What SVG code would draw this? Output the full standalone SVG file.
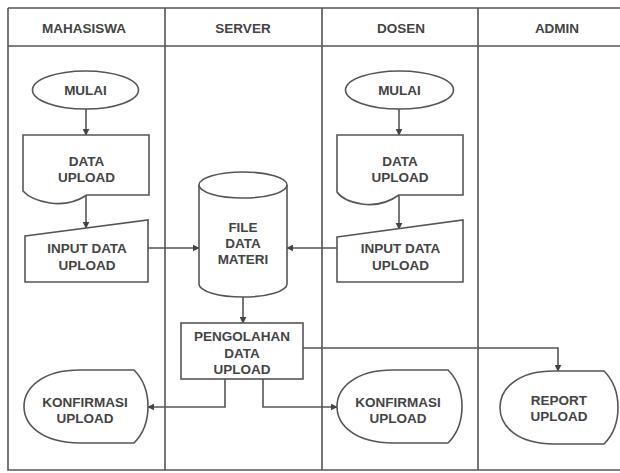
<svg xmlns="http://www.w3.org/2000/svg" width="620" height="473" viewBox="0 0 620 473">
<style>
.ln{fill:none;stroke:#555;stroke-width:1.6}
.sh{fill:#fff;stroke:#555;stroke-width:1.6}
.cn{fill:none;stroke:#555;stroke-width:1.6;marker-end:url(#ah)}
text{font-family:"Liberation Sans",Arial,sans-serif;font-weight:bold;font-size:13.5px;fill:#444;text-anchor:middle}
</style>
<defs>
<marker id="ah" viewBox="0 0 10 10" refX="9" refY="5" markerWidth="7" markerHeight="7" markerUnits="userSpaceOnUse" orient="auto">
<path d="M0,0 L10,5 L0,10 Z" fill="#444"/>
</marker>
</defs>
<rect width="620" height="473" fill="#fff"/>
<g id="lanes">
<path class="ln" d="M8,8 H620 M8,46 H620 M8,8 V470 H620 M165,8 V470 M322,8 V470 M478,8 V470"/>
<text x="84" y="33">MAHASISWA</text>
<text x="243" y="33">SERVER</text>
<text x="401" y="33">DOSEN</text>
<text x="557" y="33">ADMIN</text>
</g>
<g id="connectors">
<path class="cn" d="M86,109 V135"/>
<path class="cn" d="M86,196 V228"/>
<path class="cn" d="M148,248 H199"/>
<path class="cn" d="M399,109 V135"/>
<path class="cn" d="M399,196 V229"/>
<path class="cn" d="M337,248 H287"/>
<path class="cn" d="M243,297 V323"/>
<path class="cn" d="M303,348 H558 V371"/>
<path class="cn" d="M225,379 V407 H148"/>
<path class="cn" d="M263,379 V407 H337"/>
</g>
<g id="mulai-mhs">
<ellipse class="sh" cx="85.5" cy="90" rx="53" ry="19"/>
<text x="85.5" y="95">MULAI</text>
</g>
<g id="data-upload-mhs">
<path class="sh" d="M23,135 H149 V195 H87 Q70,206 50,203 Q31,200 23,191 Z"/>
<text x="86.5" y="166">DATA</text>
<text x="86.5" y="182">UPLOAD</text>
</g>
<g id="input-mhs">
<path class="sh" d="M25,236 L148,220 V282 H25 Z"/>
<text x="87" y="253">INPUT DATA</text>
<text x="87" y="270">UPLOAD</text>
</g>
<g id="file-data-materi">
<path class="sh" d="M199,185 V284 A44,13 0 0 0 287,284 V185 A44,13 0 0 0 199,185 Z"/>
<path class="ln" d="M199,185 A44,13 0 0 0 287,185"/>
<text x="243" y="232">FILE</text>
<text x="243" y="248">DATA</text>
<text x="243" y="264">MATERI</text>
</g>
<g id="pengolahan">
<rect class="sh" x="181" y="323" width="122" height="56"/>
<text x="242" y="341">PENGOLAHAN</text>
<text x="242" y="358">DATA</text>
<text x="242" y="374">UPLOAD</text>
</g>
<g id="konfirmasi-mhs">
<path class="sh" d="M134,370 Q148,384 148,406.5 Q148,429 134,443 L80,443 C42,443 24,425 24,406.5 C24,388 42,370 80,370 Z"/>
<text x="85" y="407">KONFIRMASI</text>
<text x="85" y="423">UPLOAD</text>
</g>
<g id="mulai-dosen">
<ellipse class="sh" cx="399.5" cy="90" rx="54" ry="19"/>
<text x="399.5" y="95">MULAI</text>
</g>
<g id="data-upload-dosen">
<path class="sh" d="M337,135 H463 V195 H399 Q382,207 362,204 Q343,201 337,192 Z"/>
<text x="400" y="166">DATA</text>
<text x="400" y="182">UPLOAD</text>
</g>
<g id="input-dosen">
<path class="sh" d="M337,237 L463,220 V282 H337 Z"/>
<text x="400.5" y="253">INPUT DATA</text>
<text x="400.5" y="270">UPLOAD</text>
</g>
<g id="konfirmasi-dosen">
<path class="sh" d="M448,370 Q462,384 462,406.5 Q462,429 448,443 L393,443 C355,443 337,425 337,406.5 C337,388 355,370 393,370 Z"/>
<text x="398" y="407">KONFIRMASI</text>
<text x="398" y="423">UPLOAD</text>
</g>
<g id="report-upload">
<path class="sh" d="M604,371 Q618,385 618,407.5 Q618,430 604,444 L554,444 C517,444 500,426 500,407.5 C500,389 517,371 554,371 Z"/>
<text x="559" y="405">REPORT</text>
<text x="559" y="421">UPLOAD</text>
</g>
</svg>
